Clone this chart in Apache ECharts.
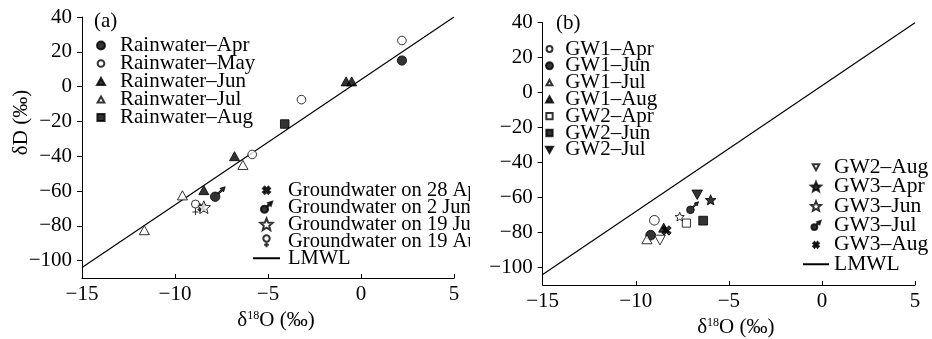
<!DOCTYPE html>
<html><head><meta charset="utf-8">
<script src="https://cdn.jsdelivr.net/npm/echarts@6/dist/echarts.min.js"></script>
<style>
html,body{margin:0;padding:0;background:#fff;width:932px;height:339px;overflow:hidden;}
#ca{position:absolute;left:0;top:0;width:470px;height:339px;}
#cb{position:absolute;left:470px;top:0;width:462px;height:339px;}
</style>
</head><body>
<div id="ca"></div><div id="cb"></div>
<script>
// ---------- data ----------
const xTicks = [-15, -10, -5, 0, 5];
const yTicks = [-100, -80, -60, -40, -20, 0, 20, 40];
const lmwlX = [-15, 5];
const lmwlY = [-104, 40];

// panel (a)
const rainwaterApr = [[2.2, 15]];
const rainwaterMay = [[2.2, 26.5], [-3.2, -7.5], [-5.85, -39]];
const rainwaterJun = [[-0.8, 3], [-0.5, 3], [-6.8, -40], [-8.45, -59.5]];
const rainwaterJul = [[-6.35, -45], [-9.6, -62.5], [-11.65, -82.5]];
const rainwaterAug = [[-4.1, -21.5]];
const gw28Apr = [[-8.55, -69.5]];
const gw2Jun = [[-7.7, -61.8]];
const gw19Jul = [[-8.45, -69.3]];
const gw19Aug = [[-8.9, -69.5]];

// panel (b)
const gw1Apr = [[-9.0, -73]];
const gw1Jun = [[-9.2, -81.5]];
const gw1Jul = [[-9.4, -83.8]];
const gw1Aug = [[-8.5, -77.2]];
const gw2Apr = [[-7.28, -74.6]];
const gw2JunB = [[-6.38, -73.2]];
const gw2Jul = [[-6.7, -58.4]];
const gw2Aug = [[-8.7, -84.3]];
const gw3Apr = [[-5.98, -61.3]];
const gw3Jun = [[-7.64, -70.9]];
const gw3Jul = [[-6.95, -65.8]];
const gw3Aug = [[-8.35, -78.8]];

// ---------- styles ----------
const FONT = "'Liberation Serif','Times New Roman',serif";
const FR = 'M0,0M20,20';
const SYM = {
  circle: 'path://' + FR + 'M5,10A5,5 0 1,0 15,10A5,5 0 1,0 5,10Z',
  circleO: 'path://' + FR + 'M5.8,10A4.2,4.2 0 1,0 14.2,10A4.2,4.2 0 1,0 5.8,10Z',
  tri: 'path://' + FR + 'M10,5.5L15,14.5L5,14.5Z',
  triO: 'path://' + FR + 'M10,6.2L14.2,13.8L5.8,13.8Z',
  dtri: 'path://' + FR + 'M5,5.5L15,5.5L10,14.5Z',
  rect: 'path://' + FR + 'M5.5,5.5L14.5,5.5L14.5,14.5L5.5,14.5Z',
  cross: 'path://' + FR + 'M5.5,7.7L7.7,5.5L10,7.8L12.3,5.5L14.5,7.7L12.2,10L14.5,12.3L12.3,14.5L10,12.2L7.7,14.5L5.5,12.3L7.8,10Z',
  star: 'path://' + FR + 'M10,2.764L12.116,7.852L17.608,8.292L13.424,11.876L14.702,17.236L10,14.364L5.298,17.236L6.576,11.876L2.392,8.292L7.884,7.852Z',
  male: 'path://' + FR + 'M3,12.5A4.5,4.5 0 1,0 12,12.5A4.5,4.5 0 1,0 3,12.5Z M9.93,8.93L13.93,4.93L15.07,6.07L11.07,10.07Z M17,3L12.1,4.5L15.5,7.9Z',
  female: 'path://' + FR + 'M6,6.5A4,4 0 1,0 14,6.5A4,4 0 1,0 6,6.5Z M10,10.5L10,17.5 M7,14.5L13,14.5'
};
const FILL = {color: '#000', borderColor: '#000', borderWidth: 1};
const OPEN = {color: '#fff', borderColor: '#000', borderWidth: 1};

function sc(name, data, symbol, size, style) {
  return {type: 'scatter', name: name, data: data, symbol: symbol, symbolSize: size,
    symbolKeepAspect: true, itemStyle: style, z: 3, silent: true};
}
function lmwl() {
  return {type: 'line', name: 'LMWL', data: lmwlX.map((x, i) => [x, lmwlY[i]]),
    symbol: 'none', itemStyle: {color: '#000'}, lineStyle: {color: '#000', width: 1.2}, z: 2, silent: true};
}
const LMWL_LEG = {name: 'LMWL', itemStyle: {color: 'rgba(0,0,0,0)', borderColor: 'rgba(0,0,0,0)', borderWidth: 0}};
const tickFmt = v => (v < 0 ? '\u2212' + Math.abs(v) : String(v));

function xAxisOpt(pad) {
  return {type: 'value', min: -15, max: 5,
    name: '{a|\u03b4}{b|18}{a|O (\u2030)}', nameLocation: 'middle', nameGap: 32,
    nameTextStyle: {color: '#000', fontFamily: FONT, fontSize: 21, padding: [0, 0, 0, pad],
      rich: {a: {fontFamily: FONT, fontSize: 21, color: '#000'},
             b: {fontFamily: FONT, fontSize: 12, color: '#000', verticalAlign: 'top'}}},
    axisLine: {show: true, onZero: false, lineStyle: {color: '#000', width: 1}},
    axisTick: {show: true, inside: true, length: 4, customValues: xTicks, lineStyle: {color: '#000'}},
    axisLabel: {customValues: xTicks, formatter: tickFmt, margin: 6, color: '#000', fontFamily: FONT, fontSize: 21},
    splitLine: {show: false}};
}
function yAxisOpt(withName) {
  const o = {type: 'value', min: -110, max: 40,
    axisLine: {show: true, onZero: false, lineStyle: {color: '#000', width: 1}},
    axisTick: {show: true, inside: false, length: 5, customValues: yTicks, lineStyle: {color: '#000'}},
    axisLabel: {customValues: yTicks, formatter: tickFmt, margin: 10, color: '#000', fontFamily: FONT, fontSize: 21},
    splitLine: {show: false}};
  if (withName) {
    o.name = '\u03b4D (\u2030)';
    o.nameLocation = 'middle';
    o.nameGap = 50;
    o.nameMoveOverlap = false;
    o.nameTextStyle = {color: '#000', fontFamily: FONT, fontSize: 21, padding: [0, 0, 0, 50]};
  }
  return o;
}
function legendOpt(names, left, top, iw, ih, fs, gap, tpad) {
  return {data: names, orient: 'vertical', left: left, top: top, itemWidth: iw, itemHeight: ih,
    itemGap: gap, padding: 0, selectedMode: false,
    textStyle: {color: '#000', fontFamily: FONT, fontSize: fs, padding: [0, 0, 0, tpad || 0]}};
}

// ---------- panel (a) ----------
const ca = echarts.init(document.getElementById('ca'), null, {renderer: 'canvas'});
ca.setOption({
  animation: false,
  backgroundColor: '#fff',
  grid: {left: 82, top: 17, width: 372, height: 261, outerBoundsMode: 'none', containLabel: false},
  xAxis: xAxisOpt(16),
  yAxis: yAxisOpt(true),
  legend: [
    legendOpt(['Rainwater\u2013Apr', 'Rainwater\u2013May', 'Rainwater\u2013Jun', 'Rainwater\u2013Jul', 'Rainwater\u2013Aug'],
      92, 35, 28, 16, 21, -3, 0),
    legendOpt(['Groundwater on 28 Apr', 'Groundwater on 2 Jun', 'Groundwater on 19 Jul', 'Groundwater on 19 Aug', LMWL_LEG],
      252, 179.75, 27, 16, 20.5, -4, 3)
  ],
  graphic: [{type: 'text', left: 94, top: 11, style: {text: '(a)', fontFamily: FONT, fontSize: 21, fill: '#000'}}],
  series: [
    lmwl(),
    sc('Rainwater\u2013Apr', rainwaterApr, SYM.circle, 18.5, FILL),
    sc('Rainwater\u2013May', rainwaterMay, SYM.circleO, 20.5, OPEN),
    sc('Rainwater\u2013Jun', rainwaterJun, SYM.tri, 20, FILL),
    sc('Rainwater\u2013Jul', rainwaterJul, SYM.triO, 24, OPEN),
    sc('Rainwater\u2013Aug', rainwaterAug, SYM.rect, 19, FILL),
    sc('Groundwater on 28 Apr', gw28Apr, SYM.cross, 18, FILL),
    sc('Groundwater on 2 Jun', gw2Jun, SYM.male, 21, FILL),
    sc('Groundwater on 19 Jul', gw19Jul, SYM.star, 17.5, OPEN),
    sc('Groundwater on 19 Aug', gw19Aug, SYM.female, 20, OPEN)
  ]
});

// ---------- panel (b) ----------
const cb = echarts.init(document.getElementById('cb'), null, {renderer: 'canvas'});
cb.setOption({
  animation: false,
  backgroundColor: '#fff',
  grid: {left: 72.7, top: 22.7, width: 372.3, height: 262.3, outerBoundsMode: 'none', containLabel: false},
  xAxis: xAxisOpt(14),
  yAxis: yAxisOpt(false),
  legend: [
    legendOpt(['GW1\u2013Apr', 'GW1\u2013Jun', 'GW1\u2013Jul', 'GW1\u2013Aug', 'GW2\u2013Apr', 'GW2\u2013Jun', 'GW2\u2013Jul'],
      71.5, 38.5, 21.4, 14, 21, -4.2, 0),
    legendOpt(['GW2\u2013Aug', 'GW3\u2013Apr', 'GW3\u2013Jun', 'GW3\u2013Jul', 'GW3\u2013Aug', LMWL_LEG],
      332, 156.25, 26, 13, 21.5, -2.6, 0)
  ],
  graphic: [{type: 'text', left: 86, top: 13, style: {text: '(b)', fontFamily: FONT, fontSize: 21, fill: '#000'}}],
  series: [
    lmwl(),
    sc('GW1\u2013Apr', gw1Apr, SYM.circleO, 23, OPEN),
    sc('GW1\u2013Jun', gw1Jun, SYM.circle, 19.5, FILL),
    sc('GW1\u2013Jul', gw1Jul, SYM.triO, 24, OPEN),
    sc('GW1\u2013Aug', gw1Aug, SYM.tri, 20, FILL),
    sc('GW2\u2013Apr', gw2Apr, SYM.rect, 18, OPEN),
    sc('GW2\u2013Jun', gw2JunB, SYM.rect, 19.5, FILL),
    sc('GW2\u2013Jul', gw2Jul, SYM.dtri, 21, FILL),
    sc('GW2\u2013Aug', gw2Aug, SYM.dtri, 21.5, OPEN),
    sc('GW3\u2013Apr', gw3Apr, SYM.star, 14, FILL),
    sc('GW3\u2013Jun', gw3Jun, SYM.star, 12, OPEN),
    sc('GW3\u2013Jul', gw3Jul, SYM.male, 17, FILL),
    sc('GW3\u2013Aug', gw3Aug, SYM.cross, 21, FILL)
  ]
});
</script>
</body></html>
